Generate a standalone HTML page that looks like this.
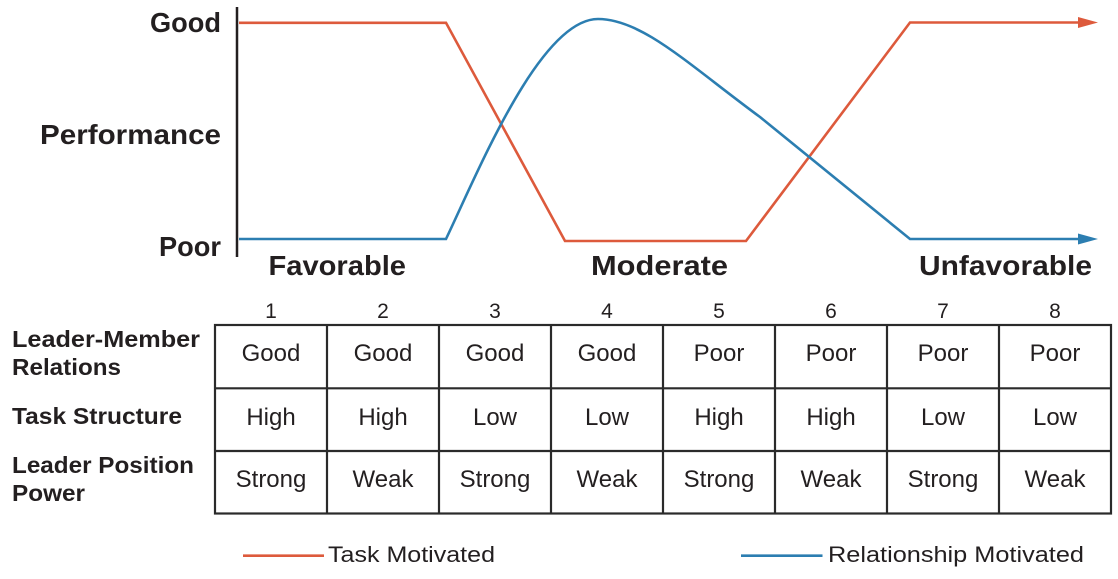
<!DOCTYPE html>
<html>
<head>
<meta charset="utf-8">
<style>
  html,body{margin:0;padding:0;background:#fff;}
  svg{display:block;}
  .b{font-family:"Liberation Sans",sans-serif;font-weight:bold;fill:#231f20;}
  .r{font-family:"Liberation Sans",sans-serif;fill:#231f20;}
</style>
</head>
<body>
<svg width="1118" height="579" viewBox="0 0 1118 579" xmlns="http://www.w3.org/2000/svg">
  <!-- axis -->
  <line x1="237" y1="7" x2="237" y2="257" stroke="#231f20" stroke-width="2.5"/>
  <!-- y labels -->
  <text class="b" x="221" y="32" font-size="28" text-anchor="end" textLength="71" lengthAdjust="spacingAndGlyphs">Good</text>
  <text class="b" x="221" y="144" font-size="28" text-anchor="end" textLength="181" lengthAdjust="spacingAndGlyphs">Performance</text>
  <text class="b" x="221" y="256" font-size="28" text-anchor="end" textLength="62" lengthAdjust="spacingAndGlyphs">Poor</text>
  <!-- x labels -->
  <text class="b" x="268.5" y="275" font-size="28" textLength="137.5" lengthAdjust="spacingAndGlyphs">Favorable</text>
  <text class="b" x="591" y="275" font-size="28" textLength="137" lengthAdjust="spacingAndGlyphs">Moderate</text>
  <text class="b" x="919" y="275" font-size="28" textLength="173" lengthAdjust="spacingAndGlyphs">Unfavorable</text>

  <!-- Task motivated (red) -->
  <polyline points="239,22.8 446,22.8 565,241 746,241 910,22.5 1082,22.5" fill="none" stroke="#dd5a3c" stroke-width="2.6" stroke-linejoin="miter"/>
  <polygon points="1078,17 1098,22.5 1078,28" fill="#dd5a3c"/>

  <!-- Relationship motivated (blue) -->
  <path d="M239,239 L446,239 C478,172 540,19 598,19 C642,19 688,64 760,117 L910,239 L1082,239" fill="none" stroke="#2c7eb1" stroke-width="2.6"/>
  <polygon points="1078,233.5 1098,239 1078,244.5" fill="#2c7eb1"/>

  <!-- column numbers -->
  <g class="r" font-size="21" text-anchor="middle">
    <text x="271" y="318">1</text>
    <text x="383" y="318">2</text>
    <text x="495" y="318">3</text>
    <text x="607" y="318">4</text>
    <text x="719" y="318">5</text>
    <text x="831" y="318">6</text>
    <text x="943" y="318">7</text>
    <text x="1055" y="318">8</text>
  </g>

  <!-- row labels -->
  <g class="b" font-size="23">
    <text x="12" y="347" textLength="188" lengthAdjust="spacingAndGlyphs">Leader-Member</text>
    <text x="12" y="375" textLength="109" lengthAdjust="spacingAndGlyphs">Relations</text>
    <text x="12" y="424" textLength="170" lengthAdjust="spacingAndGlyphs">Task Structure</text>
    <text x="12" y="473" textLength="182" lengthAdjust="spacingAndGlyphs">Leader Position</text>
    <text x="12" y="501" textLength="73" lengthAdjust="spacingAndGlyphs">Power</text>
  </g>

  <!-- table grid -->
  <g stroke="#2a2a2a" stroke-width="2.2" fill="none">
    <rect x="215" y="325" width="896" height="188.5"/>
    <line x1="215" y1="388.3" x2="1111" y2="388.3"/>
    <line x1="215" y1="451" x2="1111" y2="451"/>
    <line x1="327" y1="325" x2="327" y2="513.5"/>
    <line x1="439" y1="325" x2="439" y2="513.5"/>
    <line x1="551" y1="325" x2="551" y2="513.5"/>
    <line x1="663" y1="325" x2="663" y2="513.5"/>
    <line x1="775" y1="325" x2="775" y2="513.5"/>
    <line x1="887" y1="325" x2="887" y2="513.5"/>
    <line x1="999" y1="325" x2="999" y2="513.5"/>
  </g>

  <!-- table text -->
  <g class="r" font-size="24" text-anchor="middle">
    <text x="271" y="361">Good</text>
    <text x="383" y="361">Good</text>
    <text x="495" y="361">Good</text>
    <text x="607" y="361">Good</text>
    <text x="719" y="361">Poor</text>
    <text x="831" y="361">Poor</text>
    <text x="943" y="361">Poor</text>
    <text x="1055" y="361">Poor</text>

    <text x="271" y="425">High</text>
    <text x="383" y="425">High</text>
    <text x="495" y="425">Low</text>
    <text x="607" y="425">Low</text>
    <text x="719" y="425">High</text>
    <text x="831" y="425">High</text>
    <text x="943" y="425">Low</text>
    <text x="1055" y="425">Low</text>

    <text x="271" y="487">Strong</text>
    <text x="383" y="487">Weak</text>
    <text x="495" y="487">Strong</text>
    <text x="607" y="487">Weak</text>
    <text x="719" y="487">Strong</text>
    <text x="831" y="487">Weak</text>
    <text x="943" y="487">Strong</text>
    <text x="1055" y="487">Weak</text>
  </g>

  <!-- legend -->
  <line x1="243" y1="555.7" x2="324" y2="555.7" stroke="#dd5a3c" stroke-width="2.6"/>
  <text class="r" x="328" y="562" font-size="22" textLength="167" lengthAdjust="spacingAndGlyphs">Task Motivated</text>
  <line x1="741" y1="555.7" x2="822.5" y2="555.7" stroke="#2c7eb1" stroke-width="2.6"/>
  <text class="r" x="828" y="562" font-size="22" textLength="256" lengthAdjust="spacingAndGlyphs">Relationship Motivated</text>
</svg>
</body>
</html>
